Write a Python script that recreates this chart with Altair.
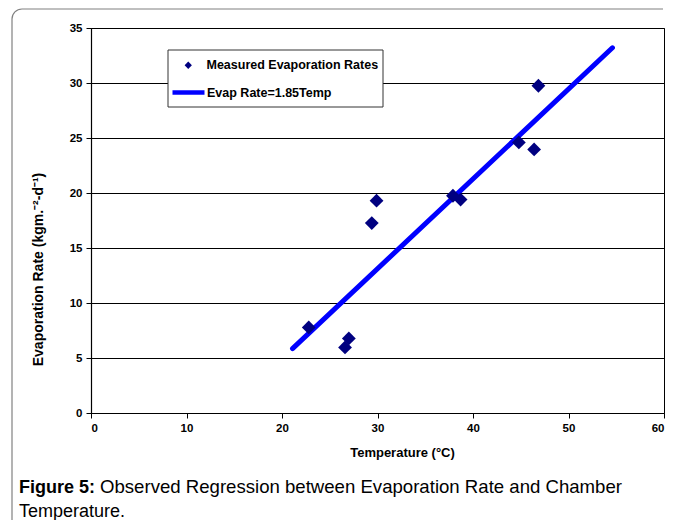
import altair as alt
import pandas as pd

# ---- data ----
temp_c = [22.8, 26.6, 27.0, 29.4, 29.9, 37.9, 38.7, 44.8, 46.4, 46.85]
evap_rate = [7.78, 5.96, 6.78, 17.27, 19.3, 19.75, 19.4, 24.6, 23.96, 29.75]
fit_temp = [21.1, 54.6]
fit_rate = [5.85, 33.2]
x_ticks = [0, 10, 20, 30, 40, 50, 60]
y_ticks = [0, 5, 10, 15, 20, 25, 30, 35]
series_points = "Measured Evaporation Rates"
series_line = "Evap Rate=1.85Temp"
x_title = "Temperature (°C)"
y_title = "Evaporation Rate (kgm.⁻²-d⁻¹)"
caption_bold = "Figure 5:"
caption_line1 = "Observed Regression between Evaporation Rate and Chamber"
caption_line2 = "Temperature."

FONT = "Liberation Sans"
FRAME = "#808080"

df_pts = pd.DataFrame({"temp": temp_c, "rate": evap_rate, "series": series_points})
df_line = pd.DataFrame({"temp": fit_temp, "rate": fit_rate, "series": series_line})
one = pd.DataFrame({"k": [0]})

xscale = alt.Scale(domain=[0, 60], nice=False, zero=False)
yscale = alt.Scale(domain=[0, 35], nice=False, zero=False)

xaxis = alt.Axis(values=x_ticks, grid=False, title=x_title, titleX=311, titleY=43,
                 titleBaseline="alphabetic", titleAlign="center", titleFontSize=13,
                 labelPadding=4)
yaxis = alt.Axis(values=y_ticks, grid=True, title=y_title, titleX=-53, titleY=241,
                 titleAngle=270, titleAlign="center", titleBaseline="middle",
                 titleFontSize=14, labelPadding=4)

# outer figure frame: top edge, left edge and rounded top-left corner
frame_top = alt.Chart(one).mark_rule(stroke=FRAME, strokeWidth=1.2).encode(
    x=alt.value(-69), x2=alt.value(572), y=alt.value(-19))
frame_left = alt.Chart(one).mark_rule(stroke=FRAME, strokeWidth=1.2).encode(
    x=alt.value(-79), y=alt.value(-9), y2=alt.value(600))
frame_corner = alt.Chart(one).mark_arc(theta=4.7124, theta2=6.2832, radius=10, radius2=10,
                                       fill="transparent", stroke=FRAME, strokeWidth=1.2).encode(
    x=alt.value(-69), y=alt.value(-9))

line = alt.Chart(df_line).mark_line(strokeWidth=5, strokeCap="round").encode(
    x=alt.X("temp:Q", scale=xscale, axis=xaxis),
    y=alt.Y("rate:Q", scale=yscale, axis=yaxis),
    stroke=alt.Stroke("series:N", scale=alt.Scale(domain=[series_line], range=["#0000FF"]),
                      legend=alt.Legend(orient="none", legendX=79, legendY=46, padding=0,
                                        title=None, symbolType="stroke", symbolSize=1024,
                                        symbolStrokeWidth=4.5, labelOffset=0,
                                        labelFont=FONT, labelFontWeight="bold",
                                        labelFontSize=12.5, labelColor="black",
                                        labelLimit=400)))

points = alt.Chart(df_pts).mark_point(shape="diamond", filled=True, size=190, opacity=1).encode(
    x=alt.X("temp:Q", scale=xscale, axis=xaxis),
    y=alt.Y("rate:Q", scale=yscale, axis=yaxis),
    fill=alt.Fill("series:N", scale=alt.Scale(domain=[series_points], range=["#000080"]),
                  legend=alt.Legend(orient="none", legendX=91, legendY=31, padding=0,
                                    title=None, symbolType="diamond", symbolSize=53,
                                    symbolStrokeWidth=0, labelOffset=12,
                                    labelFont=FONT, labelFontWeight="bold",
                                    labelFontSize=12.5, labelColor="black",
                                    labelLimit=400)))

legend_box = alt.Chart(one).mark_rect(fill="white", stroke="#333333", strokeWidth=1).encode(
    x=alt.value(77), x2=alt.value(292), y=alt.value(22), y2=alt.value(79))

cap_b = alt.Chart(one).mark_text(text=caption_bold, font=FONT, fontSize=18, fontWeight="bold",
                                 align="left", baseline="alphabetic", color="black").encode(
    x=alt.value(-72), y=alt.value(465))
cap_1 = alt.Chart(one).mark_text(text=caption_line1, font=FONT, fontSize=18.6,
                                 align="left", baseline="alphabetic", color="black").encode(
    x=alt.value(9), y=alt.value(465))
cap_2 = alt.Chart(one).mark_text(text=caption_line2, font=FONT, fontSize=18,
                                 align="left", baseline="alphabetic", color="black").encode(
    x=alt.value(-72), y=alt.value(489))

chart = alt.layer(frame_top, frame_left, frame_corner, line, points, legend_box,
                  cap_b, cap_1, cap_2).resolve_scale(
    fill="independent", stroke="independent"
).properties(
    width=573, height=385,
    autosize=alt.AutoSizeParams(type="none"),
    padding={"left": 83, "top": 20, "right": 5, "bottom": 107},
).configure_view(
    stroke="black", strokeWidth=1
).configure_axis(
    domainColor="black", domainWidth=1.2, tickColor="black", tickSize=5, tickWidth=1,
    gridColor="black", gridWidth=1, gridOpacity=1,
    labelFont=FONT, labelFontWeight="bold", labelFontSize=11.5, labelColor="black",
    titleFont=FONT, titleFontWeight="bold", titleColor="black",
)

chart.save("out.html", embed_options={"renderer": "svg", "actions": False})
